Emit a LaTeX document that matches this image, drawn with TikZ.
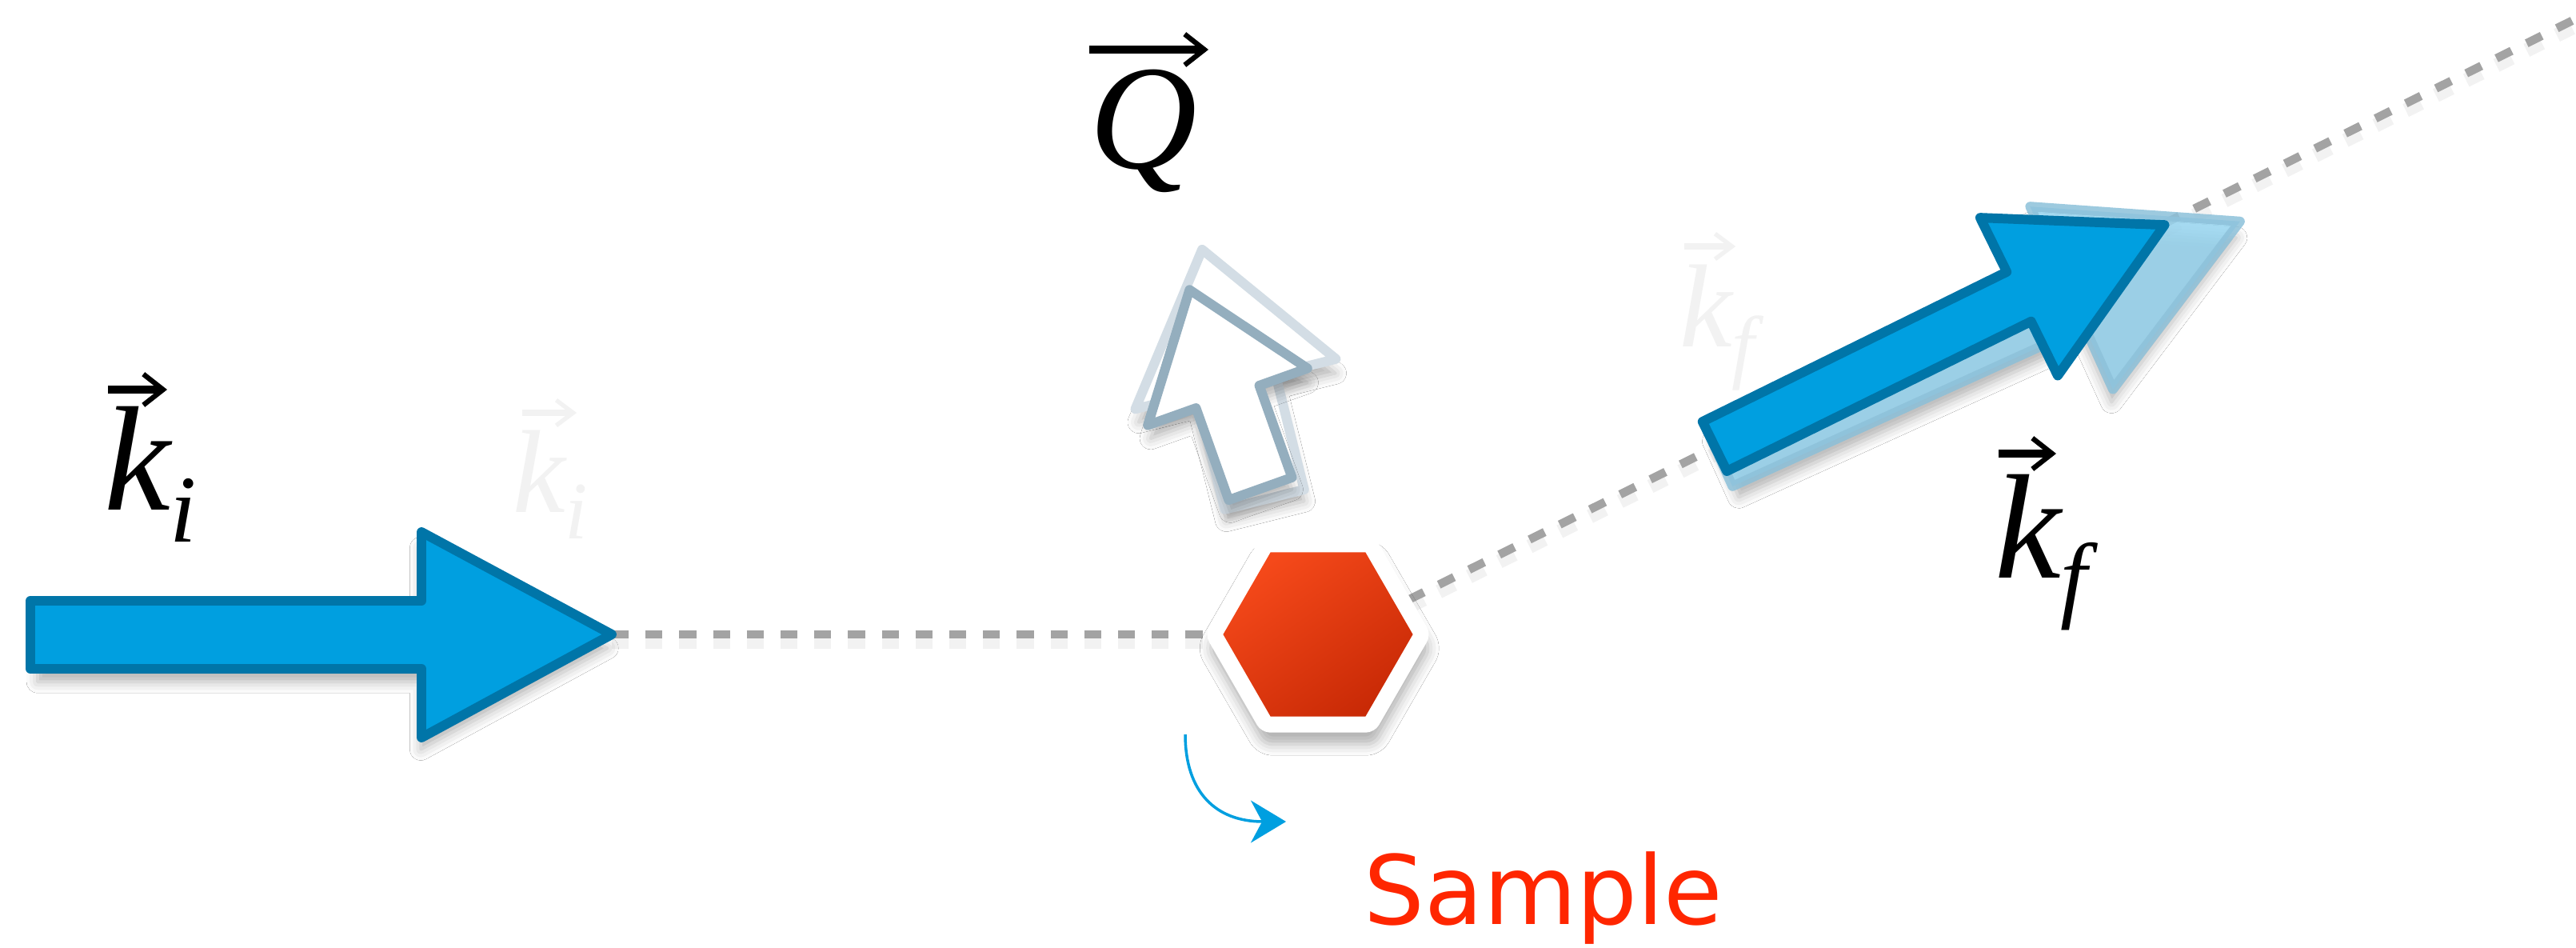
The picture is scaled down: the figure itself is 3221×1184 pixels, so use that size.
\documentclass[tikz,border=0pt]{standalone}
\usepackage{fontspec}
\newfontfamily\tms{Liberation Serif}
\newfontfamily\djv{DejaVu Sans}
\usetikzlibrary{arrows.meta,shapes.geometric,shadows.blur}
\definecolor{blueF}{HTML}{009FE0}
\definecolor{blueS}{HTML}{0075A8}
\definecolor{ghostF}{HTML}{97D5F0}
\definecolor{ghostS}{HTML}{8DC1DA}
\definecolor{qS}{HTML}{94AEBE}
\definecolor{qG}{HTML}{D3DDE5}
\definecolor{redA}{HTML}{F5491A}
\definecolor{redB}{HTML}{C92A06}
\definecolor{dashC}{HTML}{A3A3A3}
\definecolor{sampleRed}{HTML}{FF2600}
\definecolor{ghostT}{HTML}{F2F2F2}
\pgfdeclarelayer{background}
\pgfsetlayers{background,main}
\tikzset{
  bigarrow/.style={fill=blueF, draw=blueS, line width=3.4pt, line join=round},
  ghostarrow/.style={fill=ghostF, draw=ghostS, line width=3.4pt, line join=round, opacity=0.85},
  qarrow/.style={fill=white, draw=qS, line width=3.4pt, line join=round},
  qghost/.style={fill=white, draw=qG, line width=3.4pt, line join=round},
  dashline/.style={draw=dashC, line width=3pt, dash pattern=on 6pt off 6pt},
  dashshadow/.style={draw=black, opacity=0.05, line width=5pt, dash pattern=on 6pt off 6pt},
  lab/.style={inner sep=0pt, outer sep=0pt, anchor=base west, font=\fontsize{53}{53}\selectfont\tms\itshape},
  ghostlab/.style={inner sep=0pt, outer sep=0pt, anchor=base west, text=ghostT, font=\fontsize{42}{42}\selectfont\tms\itshape},
  vecarr/.style={line width=3pt, -{Straight Barb[length=7pt,width=11pt,line width=1.8pt]}},
  ghostvec/.style={draw=ghostT, line width=2.4pt, -{Straight Barb[length=6pt,width=9pt,line width=1.5pt]}},
  shad/.style={blur shadow={shadow xshift=0.5pt, shadow yshift=-5pt, shadow scale=0.98, shadow blur radius=4pt, shadow opacity=30}},
  hexo/.style={regular polygon, regular polygon sides=6, inner sep=0pt, outer sep=0pt},
  rotarrow/.style={draw=blueF, line width=1pt, -{Stealth[length=12.5pt,width=15pt,inset=4pt]}}
}
\begin{document}
\begin{tikzpicture}[x=0.01cm, y=-0.01cm]
\useasboundingbox (0,0) rectangle (3221,1184);

% named points
\coordinate (kitip) at (765,793);
\coordinate (outend) at (3260,4);
\coordinate (rotA) at (1482,918);
\coordinate (rotB) at (1608,1027);

% ghost labels (very faint)
\node[ghostlab] (gki) at (641,640) {k\raisebox{-9.4pt}{\fontsize{29}{29}\selectfont i}};
\draw[ghostvec] ([shift={(12,-124)}]gki.base west) -- ++(68,0);
\node[ghostlab] (gkf) at (2100,433) {k\raisebox{-9.4pt}{\fontsize{29}{29}\selectfont f}};
\draw[ghostvec] ([shift={(6,-125)}]gkf.base west) -- ++(64,0);

% incoming beam arrow
\draw[bigarrow, shad] (38,751) -- (527,751) -- (527,665) -- (kitip) -- (527,922) -- (527,836) -- (38,836) -- cycle;

% outgoing beam arrows
\begin{scope}[shift={(2150,572)}, rotate=24.4, scale=1.14]
  \draw[ghostarrow, shad] (0,-34.5) -- (424,-34.5) -- (424,-110) -- (627,0) -- (424,110) -- (424,34.5) -- (0,34.5) -- cycle;
\end{scope}
\begin{scope}[shift={(2144,558)}, rotate=26.2]
  \draw[bigarrow] (0,-34.5) -- (424,-34.5) -- (424,-110) -- (627,0) -- (424,110) -- (424,34.5) -- (0,34.5) -- cycle;
\end{scope}

% Q arrows
\begin{scope}[shift={(1545,480)}, rotate=14, scale=1.22]
  \draw[qghost, shad] (0,-142) -- (106,0) -- (42,0) -- (42,122) -- (-42,122) -- (-42,0) -- (-106,0) -- cycle;
\end{scope}
\begin{scope}[shift={(1535,496)}, rotate=19.6]
  \draw[qarrow, shad] (0,-142) -- (106,0) -- (42,0) -- (42,122) -- (-42,122) -- (-42,0) -- (-106,0) -- cycle;
\end{scope}

% sample hexagon
\node[hexo, minimum size=2.83cm, fill=white, rounded corners=3pt, shad] (hex) at (1648,793) {};
\node[hexo, minimum size=2.37cm, top color=redA, bottom color=redB, shading angle=35] (hexin) at (hex.center) {};

% dashed beam lines (behind everything)
\begin{pgfonlayer}{background}
  \fill[white] (0,0) rectangle (3221,1184);
  \draw[dashshadow] ([yshift=-2.5pt]kitip) -- ([yshift=-2.5pt]hex.west);
  \draw[dashshadow] ([yshift=-6.2pt]hex.center) -- ([yshift=-2.5pt]outend);
  \draw[dashline] (kitip) -- (hex.west);
  \draw[dashline] ([yshift=-3.7pt]hex.center) -- (outend);
\end{pgfonlayer}

% rotation arrow
\draw[rotarrow] (rotA) .. controls (1482,990) and (1520,1027) .. (rotB);

% labels
\node[lab] (kilab) at (130,637) {k\raisebox{-11.4pt}{\fontsize{34}{34}\selectfont i}};
\draw[vecarr] ([shift={(5,-150)}]kilab.base west) -- ++(74,0);
\node[lab] (qlab) at (1362,210) {Q};
\draw[vecarr] ([shift={(0,-148)}]qlab.base west) -- ++(149,0);
\node[lab] (kflab) at (2494,722) {k\raisebox{-11.4pt}{\fontsize{34}{34}\selectfont f}};
\draw[vecarr] ([shift={(5,-155)}]kflab.base west) -- ++(72,0);

\node[inner sep=0pt, anchor=base, text=sampleRed, font=\fontsize{34}{34}\selectfont\djv] (sample) at (1930,1155) {Sample};
\end{tikzpicture}
\end{document}
